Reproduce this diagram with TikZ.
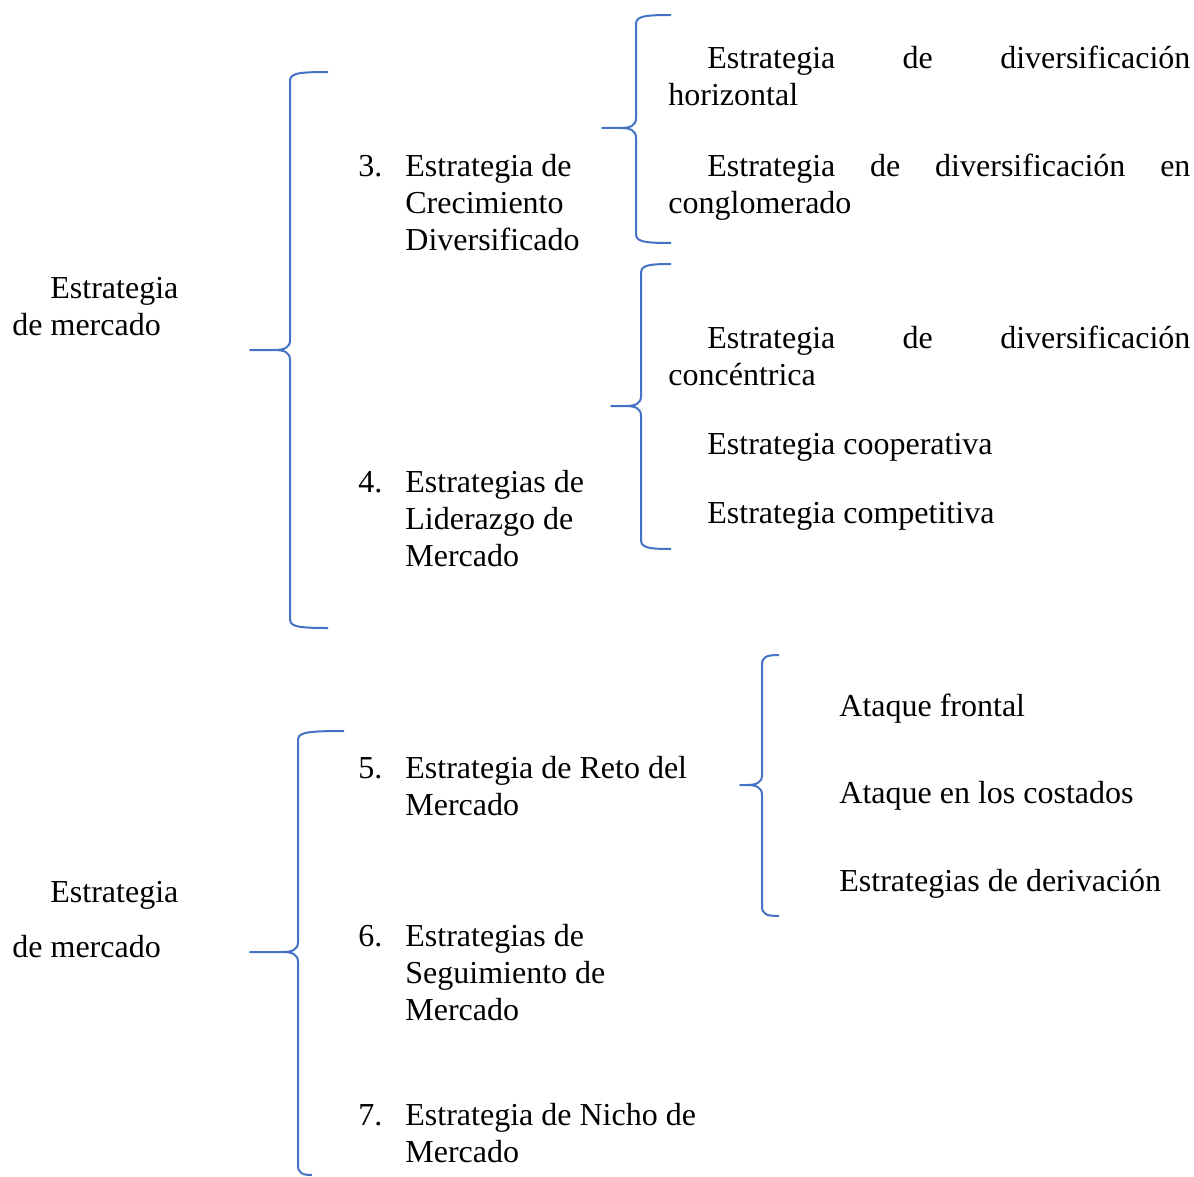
\documentclass[tikz,border=0pt]{standalone}
\usepackage{fontspec}
\setmainfont{Liberation Serif}
\usepackage{xcolor}
\definecolor{bracecol}{RGB}{68,114,196}

% plain word spaces inside aligned nodes
\newcommand{\natspace}{\spaceskip=0pt\relax}

% left brace: tip x, tip y, line x, top y, bottom y, top end x, bottom end x
\newcommand{\wbrace}[7]{%
  \draw[brace] (#6,#4) .. controls (#3+4,#4) and (#3,#4+2) .. (#3,#4+10)
    -- (#3,#2-10) .. controls (#3,#2-2) and (#3-6,#2) .. (#3-16,#2) -- (#1,#2)
    -- (#3-16,#2) .. controls (#3-6,#2) and (#3,#2+2) .. (#3,#2+10)
    -- (#3,#5-10) .. controls (#3,#5-2) and (#3+4,#5) .. (#7,#5);}

\begin{document}
\begin{tikzpicture}[
    x=0.5pt, y=-0.5pt,
    txt/.style={anchor=base west, inner sep=0pt, text width=270pt, align=left, yshift=-1.2pt,
      font=\fontsize{16}{18.4}\selectfont},
    num/.style={anchor=base west, inner sep=0pt, yshift=-1.2pt, font=\fontsize{16}{18.4}\selectfont},
    brace/.style={draw=bracecol, line width=1pt, line join=round}
]
\useasboundingbox (0,0) rectangle (1194,1177);

% Upper group
\node[txt] (merc1) at (12,296) {\natspace\hspace*{19pt}Estrategia\\de mercado};
\node[num] (n3) at (358,174) {3.};
\node[txt] (crec) at (405,174) {\natspace Estrategia de\\Crecimiento\\Diversificado};
\node[num] (n4) at (358,490) {4.};
\node[txt] (lider) at (405,490) {\natspace Estrategias de\\Liderazgo de\\Mercado};

\node[txt] (horiz) at (668,66) {\natspace\hspace*{19.5pt}\makebox[241.5pt][s]{\natspace Estrategia de diversificación}\\horizontal};
\node[txt] (congl) at (668,174) {\natspace\hspace*{19.5pt}\makebox[241.5pt][s]{\natspace Estrategia de diversificación en}\\conglomerado};
\node[txt] (conc) at (668,346) {\natspace\hspace*{19.5pt}\makebox[241.5pt][s]{\natspace Estrategia de diversificación}\\concéntrica};
\node[txt] (coop) at (707,452) {\natspace Estrategia cooperativa};
\node[txt] (comp) at (707,521) {\natspace Estrategia competitiva};

% Lower group
\node[txt] (merc2) at (12,900) {\natspace\hspace*{19pt}Estrategia\\[9pt]de mercado};
\node[num] (n5) at (358,776) {5.};
\node[txt] (reto) at (405,776) {\natspace Estrategia de Reto del\\Mercado};
\node[num] (n6) at (358,944) {6.};
\node[txt] (segui) at (405,944) {\natspace Estrategias de\\Seguimiento de\\Mercado};
\node[num] (n7) at (358,1123) {7.};
\node[txt] (nicho) at (405,1123) {\natspace Estrategia de Nicho de\\Mercado};

\node[txt] (front) at (839,714) {\natspace Ataque frontal};
\node[txt] (cost) at (839,801) {\natspace Ataque en los costados};
\node[txt] (deriv) at (839,889) {\natspace Estrategias de derivación};

% Braces
\wbrace{250}{350}{290}{72}{628}{328}{328}
\wbrace{602}{128}{636}{15}{243}{671}{671}
\wbrace{611}{406}{641}{264}{549}{671}{671}
\wbrace{740}{785}{762}{655}{916}{779}{779}
\wbrace{250}{952}{298}{731}{1175}{344}{312}

\end{tikzpicture}
\end{document}
